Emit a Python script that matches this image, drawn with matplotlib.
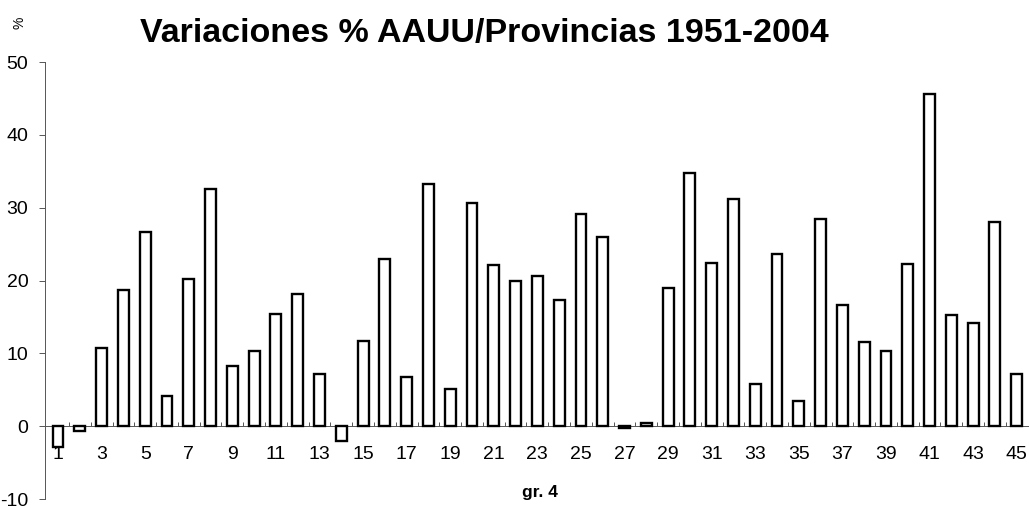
import numpy as np
import matplotlib
matplotlib.use("Agg")
import matplotlib.pyplot as plt

plt.rcParams['font.family'] = ['Liberation Sans', 'DejaVu Sans']

# provincia index 1..45
provincias = list(range(1, 46))
variacion = [-2.8, -0.7, 10.8, 18.7, 26.7, 4.1, 20.2, 32.6, 8.2, 10.3,
             15.4, 18.2, 7.1, -2.1, 11.7, 23.0, 6.8, 33.3, 5.1, 30.7,
             22.1, 19.9, 20.6, 17.3, 29.1, 26.0, -0.3, 0.5, 19.0, 34.7,
             22.4, 31.2, 5.8, 23.6, 3.4, 28.4, 16.6, 11.5, 10.3, 22.2,
             45.6, 15.3, 14.1, 28.0, 7.2]
xlabels = [str(p) if p % 2 == 1 else "" for p in provincias]
yticks = [-10, 0, 10, 20, 30, 40, 50]

fig = plt.figure(figsize=(10.29, 5.08), dpi=100)
# 50 at y~62px, -10 at y~499px
ax = fig.add_axes([0.0437, 0.0177, 0.956, 0.8602])

ax.bar(provincias, variacion, width=0.5, color='white',
       edgecolor='black', linewidth=1.7, zorder=3)

ax.set_xlim(0.4, 45.55)
ax.set_ylim(-10, 50)
ax.set_yticks(yticks)
ax.set_yticklabels([str(t) for t in yticks])
ax.set_xticks(provincias)
ax.set_xticklabels(xlabels)
ax.set_xticks(np.arange(1.5, 45, 1), minor=True)

for s in ['top', 'right']:
    ax.spines[s].set_visible(False)
ax.spines['bottom'].set_position(('data', 0))
ax.spines['bottom'].set_linewidth(0.7)
ax.spines['bottom'].set_color('#555555')
ax.spines['left'].set_linewidth(0.7)
ax.spines['left'].set_color('#555555')

ax.tick_params(axis='x', which='major', length=0, pad=14, labelsize=14)
ax.tick_params(axis='x', which='minor', length=3, direction='in',
               color='#555555', width=0.7)
ax.tick_params(axis='y', length=4, direction='out', color='#555555',
               width=0.7, pad=8, labelsize=14)

fig.text(0.471, 0.935, "Variaciones % AAUU/Provincias 1951-2004",
         ha='center', va='center', fontsize=24.5, fontweight='bold')
fig.text(0.012, 0.955, "%", ha='left', va='center', fontsize=10, rotation=90)
fig.text(0.525, 0.03, "gr. 4", ha='center', va='center', fontsize=12.5,
         fontweight='bold')

fig.savefig("out.png", dpi=100)
